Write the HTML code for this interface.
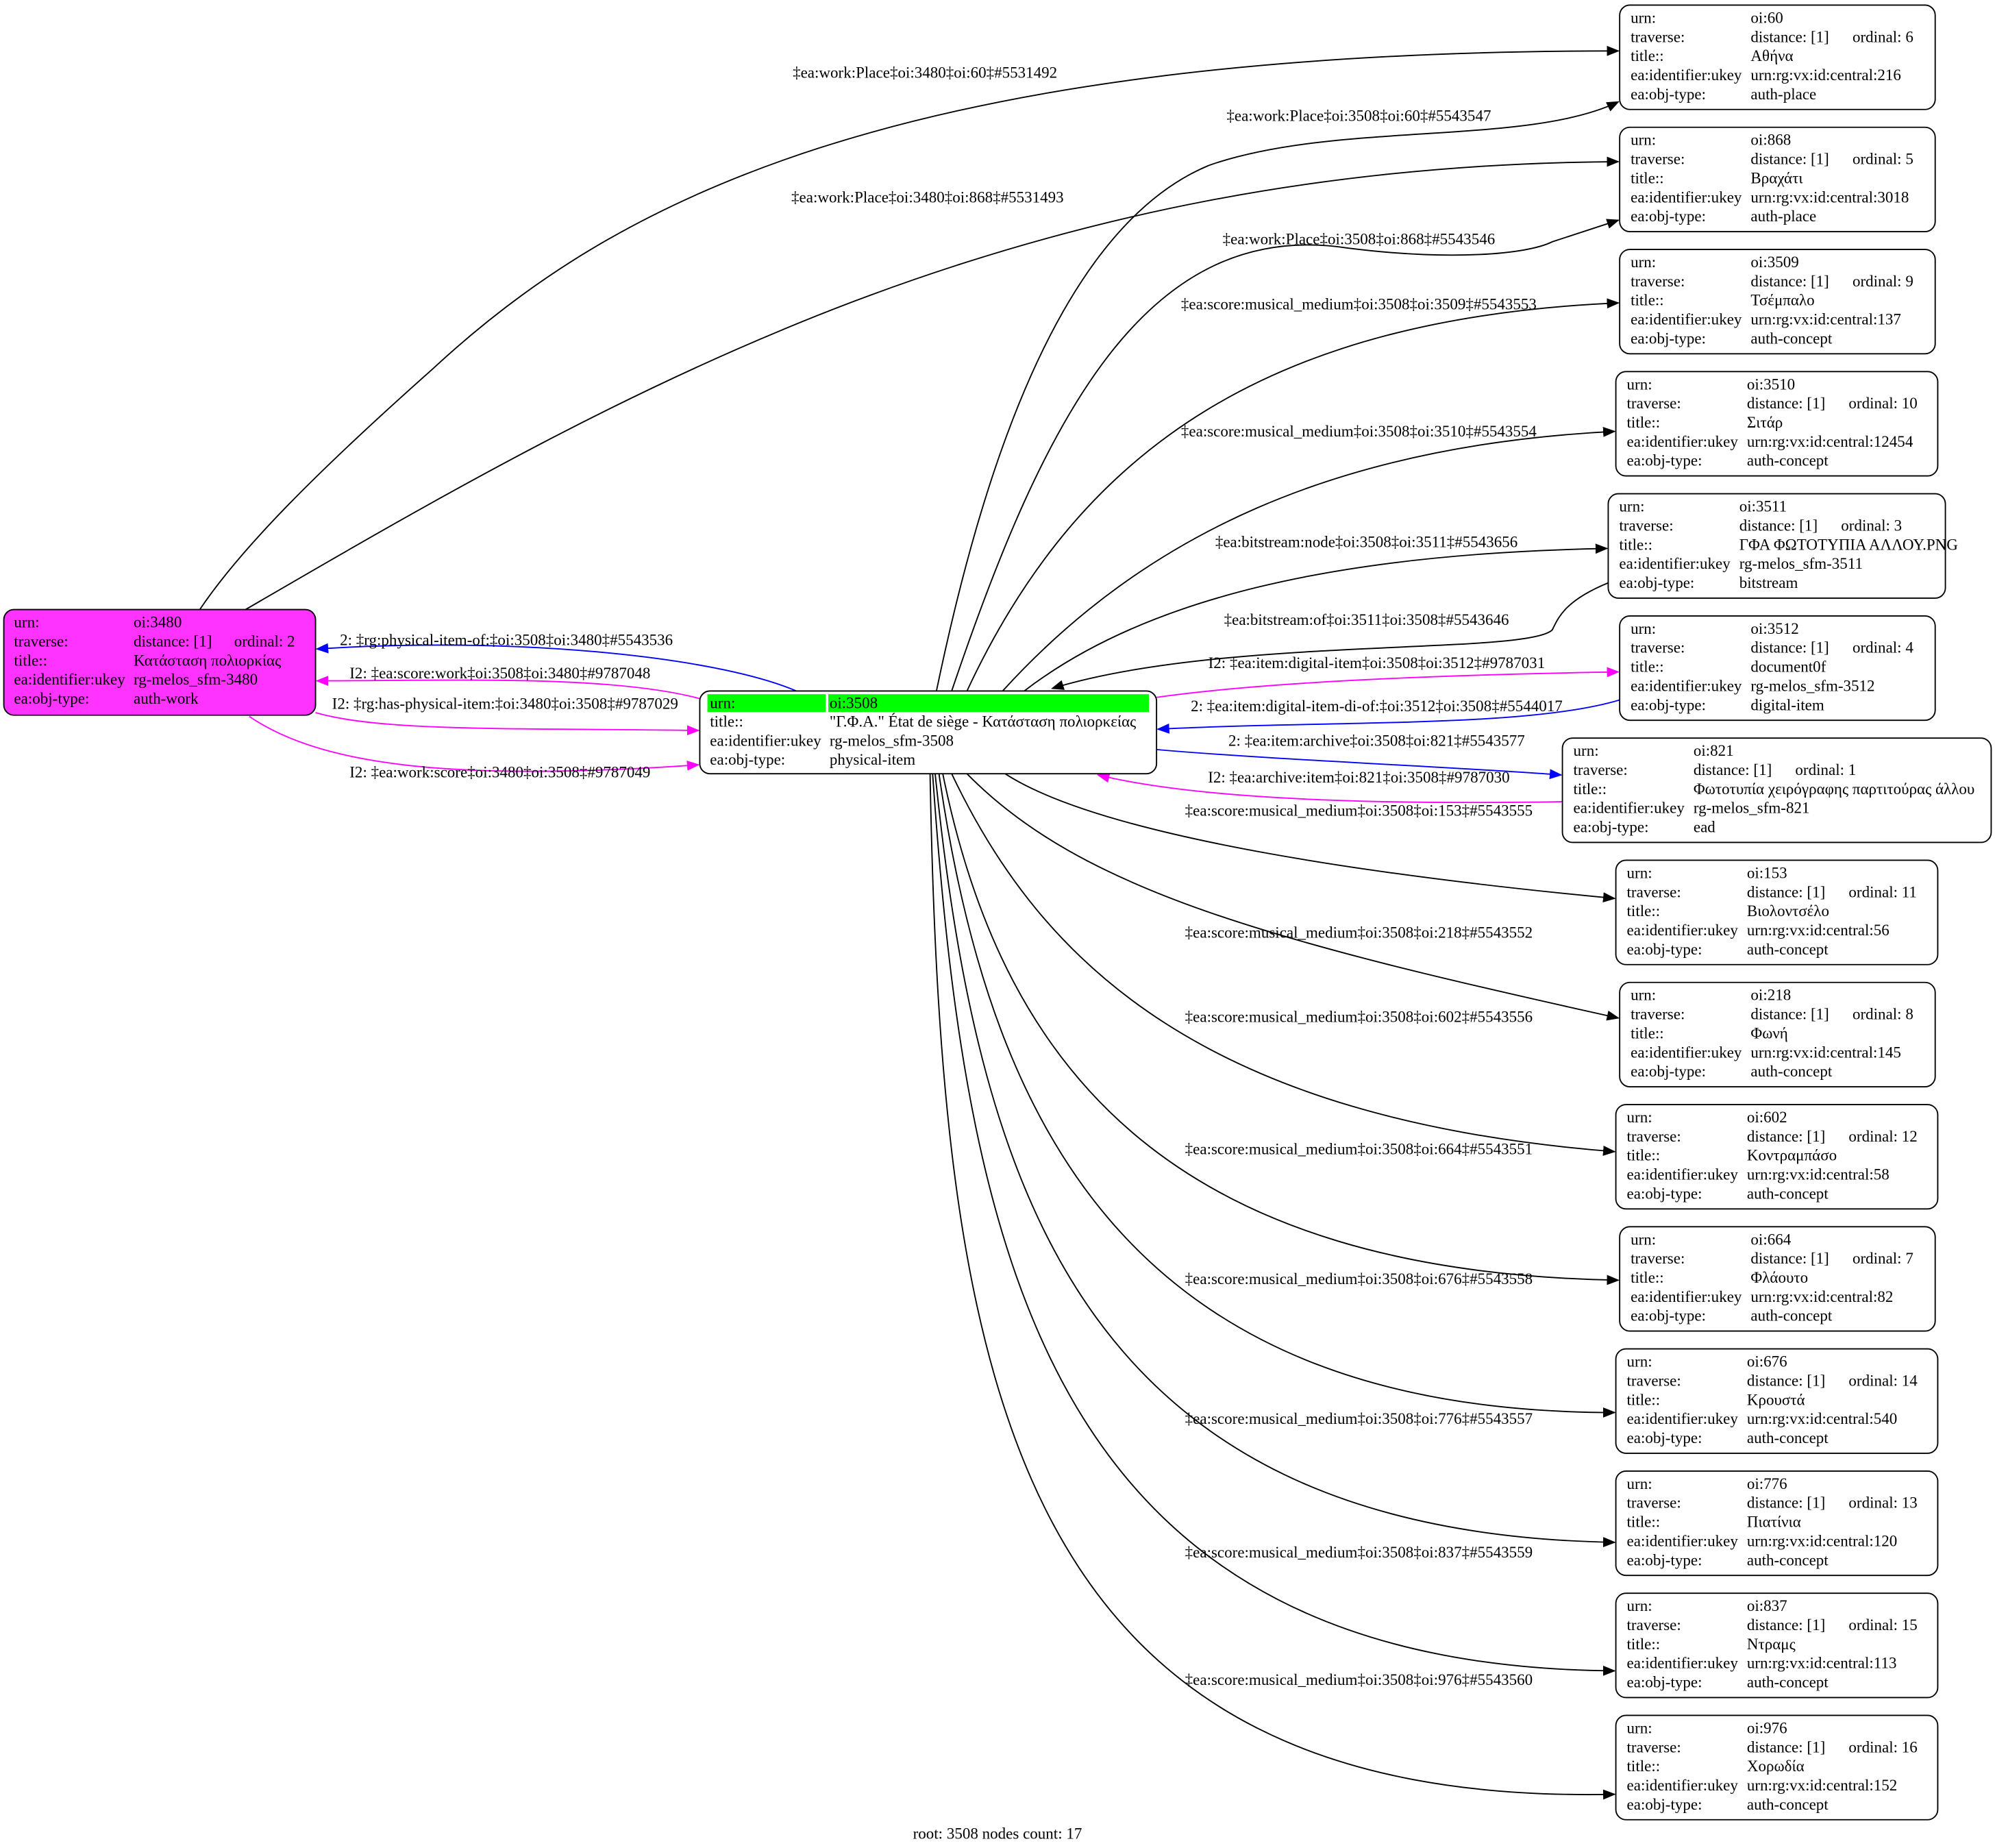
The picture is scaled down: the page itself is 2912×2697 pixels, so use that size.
<!DOCTYPE html>
<html><head><meta charset="utf-8"><style>
html,body{margin:0;padding:0;background:#fff;}
svg{display:block;}
text{font-family:"Liberation Serif","DejaVu Serif",serif;font-size:12.4px;fill:#000;}
.e{fill:none;stroke-width:1;}
</style></head><body>
<svg width="2912" height="2697" viewBox="0 0 1568 1452.2" xmlns="http://www.w3.org/2000/svg">
<defs>
<marker id="ak" markerWidth="10" markerHeight="8" refX="9" refY="4" orient="auto" markerUnits="userSpaceOnUse"><path d="M0,0 L10,4 L0,8 z" fill="#000"/></marker>
<marker id="ab" markerWidth="10" markerHeight="8" refX="9" refY="4" orient="auto" markerUnits="userSpaceOnUse"><path d="M0,0 L10,4 L0,8 z" fill="#0000ff"/></marker>
<marker id="am" markerWidth="10" markerHeight="8" refX="9" refY="4" orient="auto" markerUnits="userSpaceOnUse"><path d="M0,0 L10,4 L0,8 z" fill="#ff00ff"/></marker>
</defs>
<rect width="1568" height="1452.2" fill="#fff"/>

<!-- edges -->
<g stroke="#000" class="e">
<path class="e" stroke="#000" marker-end="url(#ak)" d="M157,479 C190,430 250,370 340,290 C480,160 700,40 1272,40"/>
<path class="e" stroke="#000" marker-end="url(#ak)" d="M193,479 C500,300 800,130 1272,127"/>
<path class="e" stroke="#000" marker-end="url(#ak)" d="M736,543 C770,380 830,180 950,130 C1050,95 1200,115 1272,80"/>
<path class="e" stroke="#000" marker-end="url(#ak)" d="M748,543 C820,330 900,170 1060,195 C1140,205 1200,200 1220,190 L1272,173"/>
<path class="e" stroke="#000" marker-end="url(#ak)" d="M760,543 C850,350 1000,250 1272,238"/>
<path class="e" stroke="#000" marker-end="url(#ak)" d="M788,543 C900,420 1050,350 1269,339"/>
<path class="e" stroke="#000" marker-end="url(#ak)" d="M805,543 C900,470 1050,435 1263,431"/>
<path class="e" stroke="#000" marker-end="url(#ak)" d="M1264,458 C1230,472 1225,485 1220,495 C1200,515 960,500 827,541"/>
<path class="e" stroke="#000" marker-end="url(#ak)" d="M790,608 C870,660 1100,690 1269,706"/>
<path class="e" stroke="#000" marker-end="url(#ak)" d="M760,608 C850,700 1000,740 1272,800"/>
<path class="e" stroke="#000" marker-end="url(#ak)" d="M748,608 C820,760 950,880 1269,905"/>
<path class="e" stroke="#000" marker-end="url(#ak)" d="M741,608 C790,850 930,1000 1272,1006"/>
<path class="e" stroke="#000" marker-end="url(#ak)" d="M738,608 C780,900 900,1110 1269,1110"/>
<path class="e" stroke="#000" marker-end="url(#ak)" d="M735,608 C770,950 860,1205 1269,1212"/>
<path class="e" stroke="#000" marker-end="url(#ak)" d="M733,608 C760,1000 830,1310 1269,1313"/>
<path class="e" stroke="#000" marker-end="url(#ak)" d="M731,608 C740,1100 800,1420 1269,1410"/>
</g>
<path class="e" stroke="#0000ff" marker-end="url(#ab)" d="M626,543 C560,515 400,500 249,510"/>
<path class="e" stroke="#ff00ff" marker-end="url(#am)" d="M550,549 C480,530 350,535 249,535"/>
<path class="e" stroke="#ff00ff" marker-end="url(#am)" d="M248,560 C300,575 400,572 549,574"/>
<path class="e" stroke="#ff00ff" marker-end="url(#am)" d="M196,563 C250,600 350,615 549,601"/>
<path class="e" stroke="#ff00ff" marker-end="url(#am)" d="M909,548 C1000,535 1150,530 1272,528"/>
<path class="e" stroke="#0000ff" marker-end="url(#ab)" d="M1273,550 C1200,572 1050,566 910,573"/>
<path class="e" stroke="#0000ff" marker-end="url(#ab)" d="M909,589 C1000,597 1150,603 1227,609"/>
<path class="e" stroke="#ff00ff" marker-end="url(#am)" d="M1228,630 C1100,632 950,630 863,609"/>

<!-- edge labels -->
<g text-anchor="middle">
<text x="727" y="61">‡ea:work:Place‡oi:3480‡oi:60‡#5531492</text>
<text x="729" y="159">‡ea:work:Place‡oi:3480‡oi:868‡#5531493</text>
<text x="1068" y="95">‡ea:work:Place‡oi:3508‡oi:60‡#5543547</text>
<text x="1068" y="192">‡ea:work:Place‡oi:3508‡oi:868‡#5543546</text>
<text x="1068" y="243">‡ea:score:musical_medium‡oi:3508‡oi:3509‡#5543553</text>
<text x="1068" y="343">‡ea:score:musical_medium‡oi:3508‡oi:3510‡#5543554</text>
<text x="1074" y="430">‡ea:bitstream:node‡oi:3508‡oi:3511‡#5543656</text>
<text x="1074" y="491">‡ea:bitstream:of‡oi:3511‡oi:3508‡#5543646</text>
<text x="398" y="507">2: ‡rg:physical-item-of:‡oi:3508‡oi:3480‡#5543536</text>
<text x="393" y="533">I2: ‡ea:score:work‡oi:3508‡oi:3480‡#9787048</text>
<text x="397" y="557">I2: ‡rg:has-physical-item:‡oi:3480‡oi:3508‡#9787029</text>
<text x="393" y="611">I2: ‡ea:work:score‡oi:3480‡oi:3508‡#9787049</text>
<text x="1082" y="525">I2: ‡ea:item:digital-item‡oi:3508‡oi:3512‡#9787031</text>
<text x="1082" y="559">2: ‡ea:item:digital-item-di-of:‡oi:3512‡oi:3508‡#5544017</text>
<text x="1082" y="586">2: ‡ea:item:archive‡oi:3508‡oi:821‡#5543577</text>
<text x="1068" y="615">I2: ‡ea:archive:item‡oi:821‡oi:3508‡#9787030</text>
<text x="1068" y="641">‡ea:score:musical_medium‡oi:3508‡oi:153‡#5543555</text>
<text x="1068" y="737">‡ea:score:musical_medium‡oi:3508‡oi:218‡#5543552</text>
<text x="1068" y="803">‡ea:score:musical_medium‡oi:3508‡oi:602‡#5543556</text>
<text x="1068" y="907">‡ea:score:musical_medium‡oi:3508‡oi:664‡#5543551</text>
<text x="1068" y="1009">‡ea:score:musical_medium‡oi:3508‡oi:676‡#5543558</text>
<text x="1068" y="1119">‡ea:score:musical_medium‡oi:3508‡oi:776‡#5543557</text>
<text x="1068" y="1224">‡ea:score:musical_medium‡oi:3508‡oi:837‡#5543559</text>
<text x="1068" y="1324">‡ea:score:musical_medium‡oi:3508‡oi:976‡#5543560</text>
<text x="784" y="1445">root: 3508 nodes count: 17</text>
</g>

<!-- pink node -->
<g transform="translate(3,479)">
<rect x="0" y="0" width="245" height="83" rx="8" fill="#ff33ff" stroke="#000" stroke-width="1"/>
<text x="8" y="14">urn:</text><text x="102" y="14">oi:3480</text>
<text x="8" y="29">traverse:</text><text x="102" y="29">distance: [1]</text><text x="181" y="29">ordinal: 2</text>
<text x="8" y="44">title::</text><text x="102" y="44">Κατάσταση πολιορκίας</text>
<text x="8" y="59">ea:identifier:ukey</text><text x="102" y="59">rg-melos_sfm-3480</text>
<text x="8" y="74">ea:obj-type:</text><text x="102" y="74">auth-work</text>
</g>

<!-- central node -->
<g transform="translate(550,543)">
<rect x="0" y="0" width="359" height="65" rx="8" fill="#fff" stroke="#000" stroke-width="1"/>
<rect x="6" y="2.5" width="93" height="14" fill="#00ff00"/>
<rect x="101" y="2.5" width="252" height="14" fill="#00ff00"/>
<text x="8" y="13.5">urn:</text><text x="102" y="13.5">oi:3508</text>
<text x="8" y="28">title::</text><text x="102" y="28">"Γ.Φ.Α." État de siège - Κατάσταση πολιορκείας</text>
<text x="8" y="43">ea:identifier:ukey</text><text x="102" y="43">rg-melos_sfm-3508</text>
<text x="8" y="58">ea:obj-type:</text><text x="102" y="58">physical-item</text>
</g>

<!-- right nodes -->
<g transform="translate(1273,4)"><rect width="248" height="82" rx="8" fill="#fff" stroke="#000"/>
<text x="8.6" y="14">urn:</text><text x="103" y="14">oi:60</text>
<text x="8.6" y="29">traverse:</text><text x="103" y="29">distance: [1]</text><text x="183" y="29">ordinal: 6</text>
<text x="8.6" y="44">title::</text><text x="103" y="44">Αθήνα</text>
<text x="8.6" y="59">ea:identifier:ukey</text><text x="103" y="59">urn:rg:vx:id:central:216</text>
<text x="8.6" y="74">ea:obj-type:</text><text x="103" y="74">auth-place</text></g>

<g transform="translate(1273,100)"><rect width="248" height="82" rx="8" fill="#fff" stroke="#000"/>
<text x="8.6" y="14">urn:</text><text x="103" y="14">oi:868</text>
<text x="8.6" y="29">traverse:</text><text x="103" y="29">distance: [1]</text><text x="183" y="29">ordinal: 5</text>
<text x="8.6" y="44">title::</text><text x="103" y="44">Βραχάτι</text>
<text x="8.6" y="59">ea:identifier:ukey</text><text x="103" y="59">urn:rg:vx:id:central:3018</text>
<text x="8.6" y="74">ea:obj-type:</text><text x="103" y="74">auth-place</text></g>

<g transform="translate(1273,196)"><rect width="248" height="82" rx="8" fill="#fff" stroke="#000"/>
<text x="8.6" y="14">urn:</text><text x="103" y="14">oi:3509</text>
<text x="8.6" y="29">traverse:</text><text x="103" y="29">distance: [1]</text><text x="183" y="29">ordinal: 9</text>
<text x="8.6" y="44">title::</text><text x="103" y="44">Τσέμπαλο</text>
<text x="8.6" y="59">ea:identifier:ukey</text><text x="103" y="59">urn:rg:vx:id:central:137</text>
<text x="8.6" y="74">ea:obj-type:</text><text x="103" y="74">auth-concept</text></g>

<g transform="translate(1270,292)"><rect width="253" height="82" rx="8" fill="#fff" stroke="#000"/>
<text x="8.6" y="14">urn:</text><text x="103" y="14">oi:3510</text>
<text x="8.6" y="29">traverse:</text><text x="103" y="29">distance: [1]</text><text x="183" y="29">ordinal: 10</text>
<text x="8.6" y="44">title::</text><text x="103" y="44">Σιτάρ</text>
<text x="8.6" y="59">ea:identifier:ukey</text><text x="103" y="59">urn:rg:vx:id:central:12454</text>
<text x="8.6" y="74">ea:obj-type:</text><text x="103" y="74">auth-concept</text></g>

<g transform="translate(1264,388)"><rect width="265" height="82" rx="8" fill="#fff" stroke="#000"/>
<text x="8.6" y="14">urn:</text><text x="103" y="14">oi:3511</text>
<text x="8.6" y="29">traverse:</text><text x="103" y="29">distance: [1]</text><text x="183" y="29">ordinal: 3</text>
<text x="8.6" y="44">title::</text><text x="103" y="44">ΓΦΑ ΦΩΤΟΤΥΠΙΑ ΑΛΛΟΥ.PNG</text>
<text x="8.6" y="59">ea:identifier:ukey</text><text x="103" y="59">rg-melos_sfm-3511</text>
<text x="8.6" y="74">ea:obj-type:</text><text x="103" y="74">bitstream</text></g>

<g transform="translate(1273,484)"><rect width="248" height="82" rx="8" fill="#fff" stroke="#000"/>
<text x="8.6" y="14">urn:</text><text x="103" y="14">oi:3512</text>
<text x="8.6" y="29">traverse:</text><text x="103" y="29">distance: [1]</text><text x="183" y="29">ordinal: 4</text>
<text x="8.6" y="44">title::</text><text x="103" y="44">document0f</text>
<text x="8.6" y="59">ea:identifier:ukey</text><text x="103" y="59">rg-melos_sfm-3512</text>
<text x="8.6" y="74">ea:obj-type:</text><text x="103" y="74">digital-item</text></g>

<g transform="translate(1228,580)"><rect width="337" height="82" rx="8" fill="#fff" stroke="#000"/>
<text x="8.6" y="14">urn:</text><text x="103" y="14">oi:821</text>
<text x="8.6" y="29">traverse:</text><text x="103" y="29">distance: [1]</text><text x="183" y="29">ordinal: 1</text>
<text x="8.6" y="44">title::</text><text x="103" y="44">Φωτοτυπία χειρόγραφης παρτιτούρας άλλου</text>
<text x="8.6" y="59">ea:identifier:ukey</text><text x="103" y="59">rg-melos_sfm-821</text>
<text x="8.6" y="74">ea:obj-type:</text><text x="103" y="74">ead</text></g>

<g transform="translate(1270,676)"><rect width="253" height="82" rx="8" fill="#fff" stroke="#000"/>
<text x="8.6" y="14">urn:</text><text x="103" y="14">oi:153</text>
<text x="8.6" y="29">traverse:</text><text x="103" y="29">distance: [1]</text><text x="183" y="29">ordinal: 11</text>
<text x="8.6" y="44">title::</text><text x="103" y="44">Βιολοντσέλο</text>
<text x="8.6" y="59">ea:identifier:ukey</text><text x="103" y="59">urn:rg:vx:id:central:56</text>
<text x="8.6" y="74">ea:obj-type:</text><text x="103" y="74">auth-concept</text></g>

<g transform="translate(1273,772)"><rect width="248" height="82" rx="8" fill="#fff" stroke="#000"/>
<text x="8.6" y="14">urn:</text><text x="103" y="14">oi:218</text>
<text x="8.6" y="29">traverse:</text><text x="103" y="29">distance: [1]</text><text x="183" y="29">ordinal: 8</text>
<text x="8.6" y="44">title::</text><text x="103" y="44">Φωνή</text>
<text x="8.6" y="59">ea:identifier:ukey</text><text x="103" y="59">urn:rg:vx:id:central:145</text>
<text x="8.6" y="74">ea:obj-type:</text><text x="103" y="74">auth-concept</text></g>

<g transform="translate(1270,868)"><rect width="253" height="82" rx="8" fill="#fff" stroke="#000"/>
<text x="8.6" y="14">urn:</text><text x="103" y="14">oi:602</text>
<text x="8.6" y="29">traverse:</text><text x="103" y="29">distance: [1]</text><text x="183" y="29">ordinal: 12</text>
<text x="8.6" y="44">title::</text><text x="103" y="44">Κοντραμπάσο</text>
<text x="8.6" y="59">ea:identifier:ukey</text><text x="103" y="59">urn:rg:vx:id:central:58</text>
<text x="8.6" y="74">ea:obj-type:</text><text x="103" y="74">auth-concept</text></g>

<g transform="translate(1273,964)"><rect width="248" height="82" rx="8" fill="#fff" stroke="#000"/>
<text x="8.6" y="14">urn:</text><text x="103" y="14">oi:664</text>
<text x="8.6" y="29">traverse:</text><text x="103" y="29">distance: [1]</text><text x="183" y="29">ordinal: 7</text>
<text x="8.6" y="44">title::</text><text x="103" y="44">Φλάουτο</text>
<text x="8.6" y="59">ea:identifier:ukey</text><text x="103" y="59">urn:rg:vx:id:central:82</text>
<text x="8.6" y="74">ea:obj-type:</text><text x="103" y="74">auth-concept</text></g>

<g transform="translate(1270,1060)"><rect width="253" height="82" rx="8" fill="#fff" stroke="#000"/>
<text x="8.6" y="14">urn:</text><text x="103" y="14">oi:676</text>
<text x="8.6" y="29">traverse:</text><text x="103" y="29">distance: [1]</text><text x="183" y="29">ordinal: 14</text>
<text x="8.6" y="44">title::</text><text x="103" y="44">Κρουστά</text>
<text x="8.6" y="59">ea:identifier:ukey</text><text x="103" y="59">urn:rg:vx:id:central:540</text>
<text x="8.6" y="74">ea:obj-type:</text><text x="103" y="74">auth-concept</text></g>

<g transform="translate(1270,1156)"><rect width="253" height="82" rx="8" fill="#fff" stroke="#000"/>
<text x="8.6" y="14">urn:</text><text x="103" y="14">oi:776</text>
<text x="8.6" y="29">traverse:</text><text x="103" y="29">distance: [1]</text><text x="183" y="29">ordinal: 13</text>
<text x="8.6" y="44">title::</text><text x="103" y="44">Πιατίνια</text>
<text x="8.6" y="59">ea:identifier:ukey</text><text x="103" y="59">urn:rg:vx:id:central:120</text>
<text x="8.6" y="74">ea:obj-type:</text><text x="103" y="74">auth-concept</text></g>

<g transform="translate(1270,1252)"><rect width="253" height="82" rx="8" fill="#fff" stroke="#000"/>
<text x="8.6" y="14">urn:</text><text x="103" y="14">oi:837</text>
<text x="8.6" y="29">traverse:</text><text x="103" y="29">distance: [1]</text><text x="183" y="29">ordinal: 15</text>
<text x="8.6" y="44">title::</text><text x="103" y="44">Ντραμς</text>
<text x="8.6" y="59">ea:identifier:ukey</text><text x="103" y="59">urn:rg:vx:id:central:113</text>
<text x="8.6" y="74">ea:obj-type:</text><text x="103" y="74">auth-concept</text></g>

<g transform="translate(1270,1348)"><rect width="253" height="82" rx="8" fill="#fff" stroke="#000"/>
<text x="8.6" y="14">urn:</text><text x="103" y="14">oi:976</text>
<text x="8.6" y="29">traverse:</text><text x="103" y="29">distance: [1]</text><text x="183" y="29">ordinal: 16</text>
<text x="8.6" y="44">title::</text><text x="103" y="44">Χορωδία</text>
<text x="8.6" y="59">ea:identifier:ukey</text><text x="103" y="59">urn:rg:vx:id:central:152</text>
<text x="8.6" y="74">ea:obj-type:</text><text x="103" y="74">auth-concept</text></g>
</svg>
</body></html>
